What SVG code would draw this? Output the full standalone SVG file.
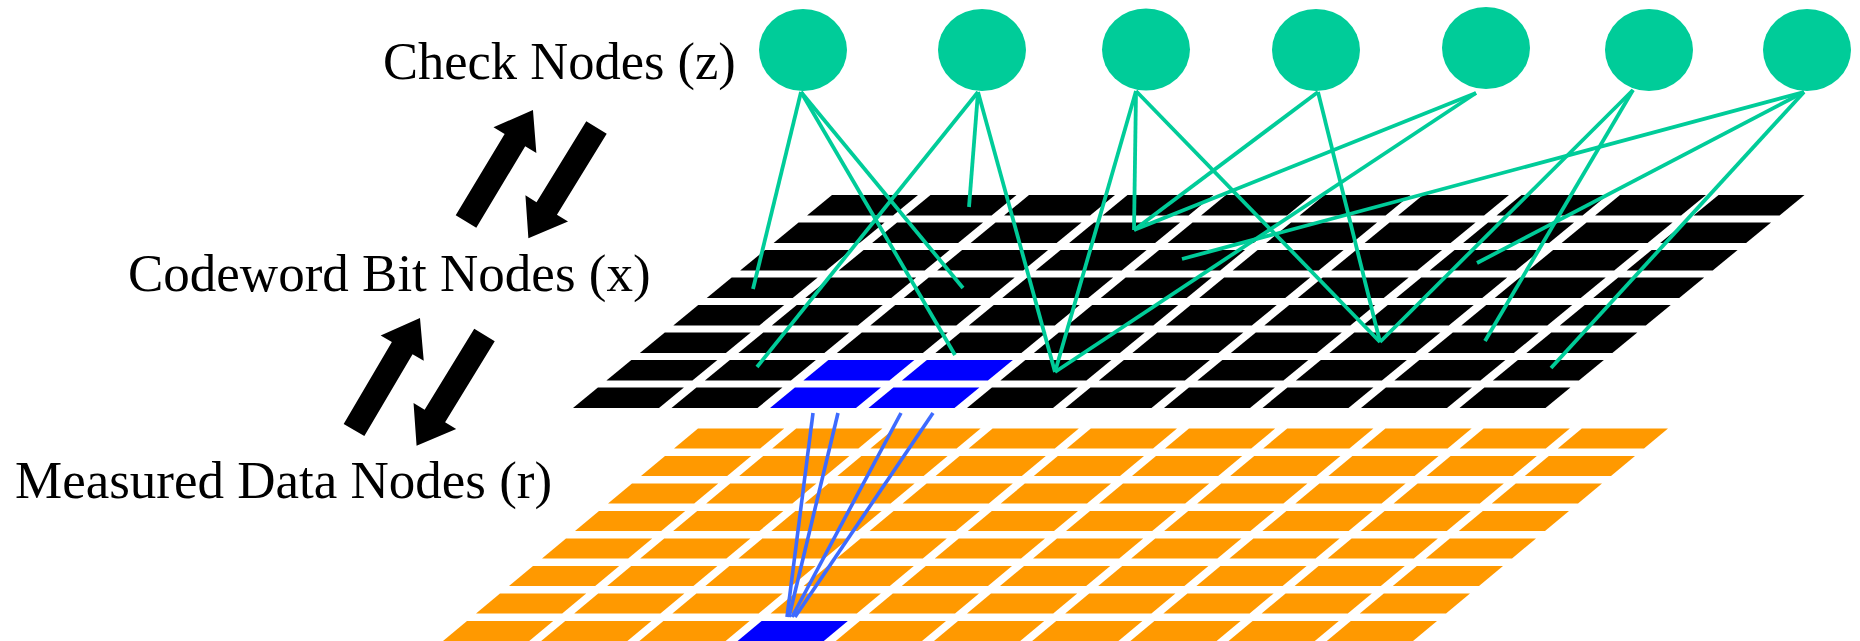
<svg xmlns="http://www.w3.org/2000/svg" xmlns:xlink="http://www.w3.org/1999/xlink" width="1860" height="641" viewBox="0 0 1860 641">
<style>
.lbl{font-family:"Liberation Serif","Times New Roman",serif;font-size:53px;fill:#000}
.chk{fill:#00cc99}
.tl{stroke:#00cc99;stroke-width:3.8;fill:none;stroke-linecap:butt}
.bl{stroke:#3d6bff;stroke-width:3.6;fill:none}
.blk{fill:#000}
.org{fill:#ff9900}
.sel{fill:#0000ff}
.arr{fill:#000}
</style>
<defs>
<path id="bc" d="M0,0 H86 L61.07,20.5 H-24.93 Z"/>
<path id="oc" d="M0,0 H86.2 L62.2,20 H-24 Z"/>
<path id="arrow" d="M0,-12 H95 V-25 L130,0 L95,25 V12 H0 Z"/>
</defs>

<g id="labels">
<text class="lbl" x="383" y="79" style="font-size:52.5px">Check Nodes (z)</text>
<text class="lbl" x="128" y="291">Codeword Bit Nodes (x)</text>
<text class="lbl" x="15" y="498">Measured Data Nodes (r)</text>
</g>

<g id="flow-arrows" class="arr">
<use xlink:href="#arrow" href="#arrow" transform="translate(466,221.5) rotate(-59)"/>
<use xlink:href="#arrow" href="#arrow" transform="translate(596.5,127.5) rotate(121.6)"/>
<use xlink:href="#arrow" href="#arrow" transform="translate(354,430) rotate(-59.5)"/>
<use xlink:href="#arrow" href="#arrow" transform="translate(484.5,335) rotate(121.5)"/>
</g>

<g id="measured-data-nodes" class="org">
<g transform="translate(698,428.5)"><use href="#oc" x="0"/><use href="#oc" x="98.2"/><use href="#oc" x="196.4"/><use href="#oc" x="294.6"/><use href="#oc" x="392.8"/><use href="#oc" x="491"/><use href="#oc" x="589.2"/><use href="#oc" x="687.4"/><use href="#oc" x="785.6"/><use href="#oc" x="883.8"/></g>
<g transform="translate(665,456)"><use href="#oc" x="0"/><use href="#oc" x="98.2"/><use href="#oc" x="196.4"/><use href="#oc" x="294.6"/><use href="#oc" x="392.8"/><use href="#oc" x="491"/><use href="#oc" x="589.2"/><use href="#oc" x="687.4"/><use href="#oc" x="785.6"/><use href="#oc" x="883.8"/></g>
<g transform="translate(632,483.5)"><use href="#oc" x="0"/><use href="#oc" x="98.2"/><use href="#oc" x="196.4"/><use href="#oc" x="294.6"/><use href="#oc" x="392.8"/><use href="#oc" x="491"/><use href="#oc" x="589.2"/><use href="#oc" x="687.4"/><use href="#oc" x="785.6"/><use href="#oc" x="883.8"/></g>
<g transform="translate(599,511)"><use href="#oc" x="0"/><use href="#oc" x="98.2"/><use href="#oc" x="196.4"/><use href="#oc" x="294.6"/><use href="#oc" x="392.8"/><use href="#oc" x="491"/><use href="#oc" x="589.2"/><use href="#oc" x="687.4"/><use href="#oc" x="785.6"/><use href="#oc" x="883.8"/></g>
<g transform="translate(566,538.5)"><use href="#oc" x="0"/><use href="#oc" x="98.2"/><use href="#oc" x="196.4"/><use href="#oc" x="294.6"/><use href="#oc" x="392.8"/><use href="#oc" x="491"/><use href="#oc" x="589.2"/><use href="#oc" x="687.4"/><use href="#oc" x="785.6"/><use href="#oc" x="883.8"/></g>
<g transform="translate(533,566)"><use href="#oc" x="0"/><use href="#oc" x="98.2"/><use href="#oc" x="196.4"/><use href="#oc" x="294.6"/><use href="#oc" x="392.8"/><use href="#oc" x="491"/><use href="#oc" x="589.2"/><use href="#oc" x="687.4"/><use href="#oc" x="785.6"/><use href="#oc" x="883.8"/></g>
<g transform="translate(500,593.5)"><use href="#oc" x="0"/><use href="#oc" x="98.2"/><use href="#oc" x="196.4"/><use href="#oc" x="294.6"/><use href="#oc" x="392.8"/><use href="#oc" x="491"/><use href="#oc" x="589.2"/><use href="#oc" x="687.4"/><use href="#oc" x="785.6"/><use href="#oc" x="883.8"/></g>
<g transform="translate(467,621)"><use href="#oc" x="0"/><use href="#oc" x="98.2"/><use href="#oc" x="196.4"/><use href="#oc" x="294.6" class="sel"/><use href="#oc" x="392.8"/><use href="#oc" x="491"/><use href="#oc" x="589.2"/><use href="#oc" x="687.4"/><use href="#oc" x="785.6"/><use href="#oc" x="883.8"/></g>
</g>

<g id="codeword-bit-nodes" class="blk">
<g transform="translate(832,195)"><use href="#bc" x="0"/><use href="#bc" x="98.5"/><use href="#bc" x="197"/><use href="#bc" x="295.5"/><use href="#bc" x="394"/><use href="#bc" x="492.5"/><use href="#bc" x="591"/><use href="#bc" x="689.5"/><use href="#bc" x="788"/><use href="#bc" x="886.5"/></g>
<g transform="translate(798.56,222.5)"><use href="#bc" x="0"/><use href="#bc" x="98.5"/><use href="#bc" x="197"/><use href="#bc" x="295.5"/><use href="#bc" x="394"/><use href="#bc" x="492.5"/><use href="#bc" x="591"/><use href="#bc" x="689.5"/><use href="#bc" x="788"/><use href="#bc" x="886.5"/></g>
<g transform="translate(765.12,250)"><use href="#bc" x="0"/><use href="#bc" x="98.5"/><use href="#bc" x="197"/><use href="#bc" x="295.5"/><use href="#bc" x="394"/><use href="#bc" x="492.5"/><use href="#bc" x="591"/><use href="#bc" x="689.5"/><use href="#bc" x="788"/><use href="#bc" x="886.5"/></g>
<g transform="translate(731.68,277.5)"><use href="#bc" x="0"/><use href="#bc" x="98.5"/><use href="#bc" x="197"/><use href="#bc" x="295.5"/><use href="#bc" x="394"/><use href="#bc" x="492.5"/><use href="#bc" x="591"/><use href="#bc" x="689.5"/><use href="#bc" x="788"/><use href="#bc" x="886.5"/></g>
<g transform="translate(698.24,305)"><use href="#bc" x="0"/><use href="#bc" x="98.5"/><use href="#bc" x="197"/><use href="#bc" x="295.5"/><use href="#bc" x="394"/><use href="#bc" x="492.5"/><use href="#bc" x="591"/><use href="#bc" x="689.5"/><use href="#bc" x="788"/><use href="#bc" x="886.5"/></g>
<g transform="translate(664.8,332.5)"><use href="#bc" x="0"/><use href="#bc" x="98.5"/><use href="#bc" x="197"/><use href="#bc" x="295.5"/><use href="#bc" x="394"/><use href="#bc" x="492.5"/><use href="#bc" x="591"/><use href="#bc" x="689.5"/><use href="#bc" x="788"/><use href="#bc" x="886.5"/></g>
<g transform="translate(631.36,360)"><use href="#bc" x="0"/><use href="#bc" x="98.5"/><use href="#bc" x="197" class="sel"/><use href="#bc" x="295.5" class="sel"/><use href="#bc" x="394"/><use href="#bc" x="492.5"/><use href="#bc" x="591"/><use href="#bc" x="689.5"/><use href="#bc" x="788"/><use href="#bc" x="886.5"/></g>
<g transform="translate(597.92,387.5)"><use href="#bc" x="0"/><use href="#bc" x="98.5"/><use href="#bc" x="197" class="sel"/><use href="#bc" x="295.5" class="sel"/><use href="#bc" x="394"/><use href="#bc" x="492.5"/><use href="#bc" x="591"/><use href="#bc" x="689.5"/><use href="#bc" x="788"/><use href="#bc" x="886.5"/></g>
</g>

<g id="connectors">
<g class="tl">
<line x1="801" y1="92" x2="753" y2="289"/>
<line x1="801" y1="92" x2="955" y2="355"/>
<line x1="801" y1="92" x2="963" y2="288"/>
<line x1="978" y1="92" x2="757" y2="367"/>
<line x1="978" y1="92" x2="969" y2="207"/>
<line x1="978" y1="92" x2="1055" y2="372"/>
<line x1="1136" y1="91" x2="1055" y2="372"/>
<line x1="1136" y1="91" x2="1134" y2="230"/>
<line x1="1136" y1="91" x2="1380" y2="342"/>
<line x1="1318" y1="92" x2="1134" y2="230"/>
<line x1="1318" y1="92" x2="1380" y2="342"/>
<line x1="1476" y1="93" x2="1134" y2="230"/>
<line x1="1476" y1="93" x2="1055" y2="372"/>
<line x1="1633" y1="90" x2="1380" y2="342"/>
<line x1="1633" y1="90" x2="1485" y2="341"/>
<line x1="1804" y1="92" x2="1182" y2="259"/>
<line x1="1804" y1="92" x2="1477" y2="263"/>
<line x1="1804" y1="92" x2="1551" y2="368"/>
</g>
<g class="bl">
<line x1="813" y1="413" x2="787" y2="617"/>
<line x1="838" y1="413" x2="789" y2="617"/>
<line x1="901" y1="413" x2="792" y2="617"/>
<line x1="933" y1="413" x2="795" y2="617"/>
</g>
</g>

<g id="check-node-1"><ellipse class="chk" cx="803" cy="50" rx="44" ry="41"/></g>
<g id="check-node-2"><ellipse class="chk" cx="982" cy="50" rx="44" ry="41"/></g>
<g id="check-node-3"><ellipse class="chk" cx="1146" cy="49.5" rx="44" ry="41"/></g>
<g id="check-node-4"><ellipse class="chk" cx="1316" cy="50" rx="44" ry="41"/></g>
<g id="check-node-5"><ellipse class="chk" cx="1486" cy="48" rx="44" ry="41"/></g>
<g id="check-node-6"><ellipse class="chk" cx="1649" cy="50" rx="44" ry="41"/></g>
<g id="check-node-7"><ellipse class="chk" cx="1807" cy="50" rx="44" ry="41"/></g>
</svg>
